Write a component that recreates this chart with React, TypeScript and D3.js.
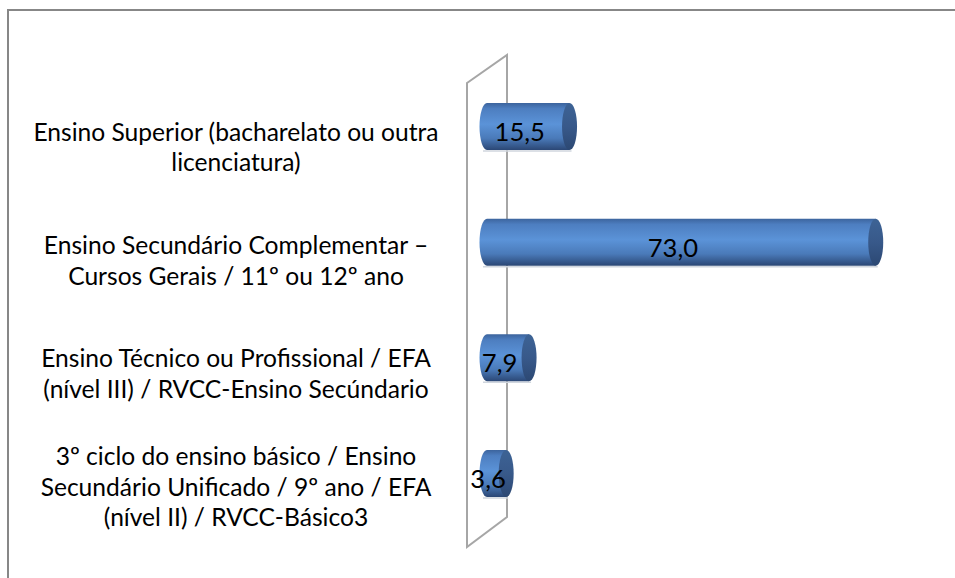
import * as d3 from "d3";

const W = 955;
const H = 578;

// categories, top to bottom
const categories = [
  "Ensino Superior (bacharelato ou outra licenciatura)",
  "Ensino Secundário Complementar – Cursos Gerais / 11º ou 12º ano",
  "Ensino Técnico ou Profissional / EFA (nível III) / RVCC-Ensino Secúndario",
  "3º ciclo do ensino básico / Ensino Secundário Unificado / 9º ano / EFA (nível II) / RVCC-Básico3",
];
// how each label wraps in the picture
const labelLines = [
  ["Ensino Superior (bacharelato ou outra", "licenciatura)"],
  ["Ensino Secundário Complementar –", "Cursos Gerais / 11º ou 12º ano"],
  ["Ensino Técnico ou Profissional / EFA", "(nível III) / RVCC-Ensino Secúndario"],
  ["3º ciclo do ensino básico / Ensino", "Secundário Unificado / 9º ano / EFA", "(nível II) / RVCC-Básico3"],
];
const values = [15.5, 73.0, 7.9, 3.6];

const FONT = "Lato, 'Open Sans', sans-serif";
const FS = 24.6;
const LINE_H = 30.5;

// 3d plot geometry
const DEPTH_X = 40;
const DEPTH_Y = 29;

const x = d3.scaleLinear().domain([0, 80]).range([487, 913]);
const y = d3.scaleBand<string>().domain(categories).range([68.7, 531.3]).paddingInner(0.594).paddingOuter(0.297);
const yLabel = d3.scaleBand<string>().domain(categories).range([90, 543]);

const fmt = (v: number) => d3.format(".1f")(v).replace(".", ",");

export default function App() {
  const wallFront = x(0) - DEPTH_X / 2;
  const wallBack = x(0) + DEPTH_X / 2;
  const top = 83;
  const bottom = 547;
  const wall = [
    [wallFront, top],
    [wallBack, top - DEPTH_Y + 1],
    [wallBack, bottom - DEPTH_Y - 1],
    [wallFront, bottom],
  ];
  const bh = 47;
  const rx = 7.5;

  return (
    <svg
      width={W}
      height={H}
      style={{ position: "absolute", left: 0, top: 0, background: "#fff" }}
      fontFamily={FONT}
    >
      <defs>
        <linearGradient id="body" x1="0" y1="0" x2="0" y2="1">
          <stop offset="0" stopColor="#3c649d" />
          <stop offset="0.12" stopColor="#4d7ec0" />
          <stop offset="0.45" stopColor="#5b93d8" />
          <stop offset="0.75" stopColor="#4a7ab9" />
          <stop offset="1" stopColor="#2b4775" />
        </linearGradient>
        <linearGradient id="cap" x1="0" y1="0" x2="0" y2="1">
          <stop offset="0" stopColor="#3d6395" />
          <stop offset="0.5" stopColor="#38598a" />
          <stop offset="1" stopColor="#2c4873" />
        </linearGradient>
      </defs>

      <rect x={8} y={10} width={W + 20} height={H + 20} fill="none" stroke="#878787" strokeWidth={2} />

      <path
        d={(d3.line()(wall as [number, number][]) as string) + "Z"}
        fill="none"
        stroke="#a6a6a6"
        strokeWidth={2}
      />

      {categories.map((c, i) => {
        const cy = (y(c) as number) + y.bandwidth() / 2;
        const x0 = x(0);
        const x1 = x(values[i]);
        const yt = cy - bh / 2;
        const yb = cy + bh / 2;
        const body =
          `M${x1},${yt}L${x0},${yt}` +
          `A${rx},${bh / 2} 0 0 0 ${x0},${yb}` +
          `L${x1},${yb}Z`;
        return (
          <g key={c}>
            <line x1={x0 - 4} x2={x1 + 2} y1={yb + 1} y2={yb + 1} stroke="#d0d6de" strokeWidth={1.5} />
            <path d={body} fill="url(#body)" />
            <ellipse cx={x1} cy={cy} rx={rx} ry={bh / 2} fill="url(#cap)" />
            <text
              x={(x0 + x1) / 2 - 8.5}
              y={cy + 14.5}
              textAnchor="middle"
              fontSize={FS + 1}
              fill="#000"
            >
              {fmt(values[i])}
            </text>
          </g>
        );
      })}

      {categories.map((c, i) => {
        const lines = labelLines[i];
        const cy = (yLabel(c) as number) + yLabel.bandwidth() / 2;
        const first = cy - ((lines.length - 1) * LINE_H) / 2;
        return (
          <text key={c} x={236} textAnchor="middle" fontSize={FS} fill="#000">
            {lines.map((l, j) => (
              <tspan key={j} x={236} y={first + j * LINE_H} dominantBaseline="central">
                {l}
              </tspan>
            ))}
          </text>
        );
      })}
    </svg>
  );
}
